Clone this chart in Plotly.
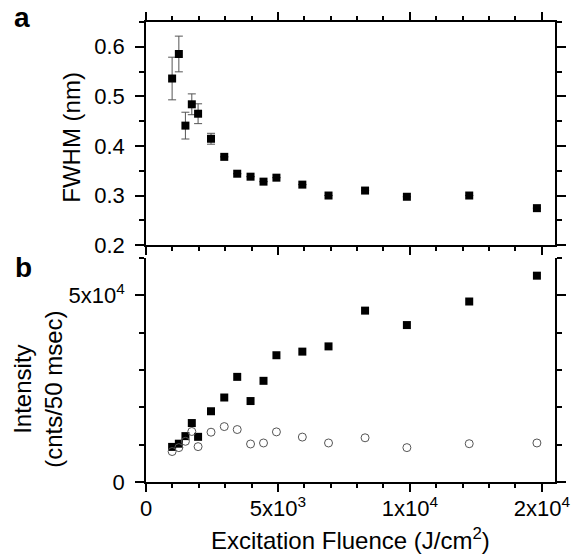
import plotly.graph_objects as go

# ---- data ----
fluence = [990, 1245, 1494, 1736, 1974, 2464, 2966, 3457, 3962, 4453, 4943,
           5925, 6917, 8302, 9887, 12249, 14815]
fwhm = [0.536, 0.5855, 0.441, 0.484, 0.465, 0.4145, 0.378, 0.344, 0.338, 0.328,
        0.336, 0.322, 0.300, 0.310, 0.2975, 0.300, 0.2745]
fwhm_err = [0.043, 0.036, 0.027, 0.021, 0.020, 0.011, 0, 0, 0, 0, 0, 0, 0, 0, 0, 0, 0]
intensity_sq = [9400, 10260, 12290, 15790, 12100, 18950, 22630, 28160, 21680, 27100,
                33950, 34920, 36320, 45900, 42030, 48340, 55260]
intensity_circ = [8160, 9210, 10900, 13530, 9470, 13340, 14840, 14050, 10180, 10450,
                  13420, 12030, 10450, 11840, 9210, 10260, 10450]

x_tickvals = [0, 5000, 10000, 15000]
x_ticktext = ["0", "5x10<sup>3</sup>", "1x10<sup>4</sup>", "2x10<sup>4</sup>"]
ya_tickvals = [0.2, 0.3, 0.4, 0.5, 0.6]
ya_ticktext = ["0.2", "0.3", "0.4", "0.5", "0.6"]
yb_tickvals = [0, 50000]
yb_ticktext = ["0", "5x10<sup>4</sup>"]

FONT = "Liberation Sans, Arial, Helvetica, sans-serif"
W, H = 582, 559
L, R, T, B = 146, 25, 13, 77
PH = H - T - B

fig = go.Figure()
fig.add_trace(go.Scatter(
    x=fluence, y=fwhm, mode="markers", xaxis="x", yaxis="y",
    marker=dict(symbol="square", size=8, color="black"),
    error_y=dict(type="data", array=fwhm_err, visible=True, color="#555555",
                 thickness=1, width=4),
    showlegend=False))
fig.add_trace(go.Scatter(
    x=fluence, y=intensity_sq, mode="markers", xaxis="x2", yaxis="y2",
    marker=dict(symbol="square", size=8, color="black"), showlegend=False))
fig.add_trace(go.Scatter(
    x=fluence, y=intensity_circ, mode="markers", xaxis="x2", yaxis="y2",
    marker=dict(symbol="circle-open", size=8, color="#555555", line=dict(width=1)),
    showlegend=False))

common_axis = dict(showline=True, linecolor="black", linewidth=1.5, ticks="outside",
                   tickcolor="black", tickwidth=1.5, showgrid=False, zeroline=False,
                   tickfont=dict(family=FONT, size=22, color="black"))

fig.update_layout(
    width=W, height=H, margin=dict(l=L, r=R, t=T, b=B),
    paper_bgcolor="white", plot_bgcolor="white",
    font=dict(family=FONT, color="black"),
    xaxis=dict(common_axis, domain=[0, 1], range=[0, 15500], anchor="y",
               tickmode="array", tickvals=x_tickvals, ticktext=x_ticktext,
               showticklabels=False, ticklen=8, mirror="ticks",
               minor=dict(tickmode="linear", tick0=0, dtick=1000, ticks="outside",
                          ticklen=4, tickcolor="black", tickwidth=1.5)),
    yaxis=dict(common_axis, domain=[0.515, 1], range=[0.2, 0.65], anchor="x",
               tickmode="array", tickvals=ya_tickvals, ticktext=ya_ticktext,
               ticklen=9, mirror="ticks", ticklabelstandoff=6,
               minor=dict(tickmode="linear", tick0=0.2, dtick=0.05, ticks="outside",
                          ticklen=5, tickcolor="black", tickwidth=1.5)),
    xaxis2=dict(common_axis, domain=[0, 1], range=[0, 15500], anchor="y2",
                tickmode="array", tickvals=x_tickvals, ticktext=x_ticktext,
                ticklen=8, ticklabelstandoff=-2,
                minor=dict(tickmode="linear", tick0=0, dtick=1000, ticks="outside",
                           ticklen=4, tickcolor="black", tickwidth=1.5)),
    yaxis2=dict(common_axis, domain=[0, 0.487], range=[0, 60000], anchor="x2",
                tickmode="array", tickvals=yb_tickvals, ticktext=yb_ticktext,
                ticklen=9, mirror="ticks", ticklabelstandoff=6,
                minor=dict(tickmode="linear", tick0=0, dtick=10000, ticks="outside",
                           ticklen=5, tickcolor="black", tickwidth=1.5)),
)

def py(pix_y):
    return (H - B - pix_y) / PH

def px_shift(pix_x):
    return pix_x - L

ann_font = dict(family=FONT, size=24, color="black")
fig.add_annotation(text="FWHM (nm)", xref="paper", yref="paper", x=0, y=py(131),
                   xshift=px_shift(72), textangle=-90, showarrow=False,
                   xanchor="center", yanchor="middle", font=ann_font)
fig.add_annotation(text="Intensity<br>(cnts/50 msec)", xref="paper", yref="paper",
                   x=0, y=py(388), xshift=px_shift(38), textangle=-90, showarrow=False,
                   xanchor="center", yanchor="middle", font=ann_font)
fig.add_annotation(text="Excitation Fluence (J/cm<sup>2</sup>)", xref="paper", yref="paper",
                   x=0.5, y=py(540), showarrow=False, xanchor="center", yanchor="middle",
                   font=ann_font)
fig.add_annotation(text="<b>a</b>", xref="paper", yref="paper", x=0, y=py(8),
                   xshift=px_shift(22), showarrow=False, xanchor="center", yanchor="middle",
                   font=dict(family=FONT, size=28, color="black"))
fig.add_annotation(text="<b>b</b>", xref="paper", yref="paper", x=0, y=py(263),
                   xshift=px_shift(23), showarrow=False, xanchor="center", yanchor="middle",
                   font=dict(family=FONT, size=28, color="black"))

fig.write_html("out.html", config={"displayModeBar": False},
               post_script="document.body.style.margin='0';document.body.style.overflow='hidden';")
